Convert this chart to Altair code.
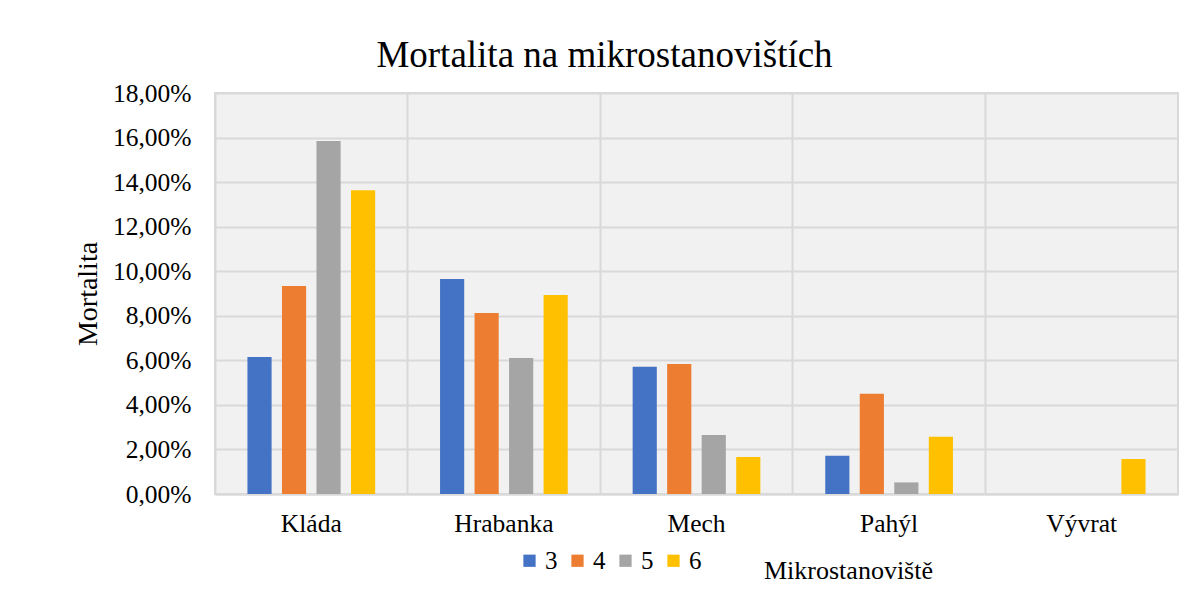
import altair as alt
import pandas as pd

categories = ["Kláda", "Hrabanka", "Mech", "Pahýl", "Vývrat"]
series = ["3", "4", "5", "6"]
values_3 = [0.0615, 0.0965, 0.0571, 0.0172, 0.0]
values_4 = [0.0934, 0.0812, 0.0583, 0.0450, 0.0]
values_5 = [0.1584, 0.0610, 0.0265, 0.0052, 0.0]
values_6 = [0.1364, 0.0893, 0.0166, 0.0257, 0.0157]
colors = ["#4472C4", "#ED7D31", "#A5A5A5", "#FFC000"]

rows = []
for s, vals in zip(series, [values_3, values_4, values_5, values_6]):
    for c, v in zip(categories, vals):
        rows.append({"Mikrostanoviště": c, "Série": s, "Mortalita": v})
df = pd.DataFrame(rows)

FONT = "Liberation Serif"

chart = alt.Chart(df).mark_bar().encode(
    x=alt.X(
        "Mikrostanoviště:N",
        sort=categories,
        scale=alt.Scale(paddingInner=0, paddingOuter=0),
        axis=alt.Axis(
            title="Mikrostanoviště",
            labelAngle=0,
            bandPosition=0,
            grid=True,
            gridColor="#d9d9d9",
            gridWidth=2,
            ticks=False,
            domainColor="#d9d9d9",
            domainWidth=2,
            labelFont=FONT,
            labelFontSize=25.5,
            labelColor="#000000",
            labelPadding=17,
            titleFont=FONT,
            titleFontSize=26,
            titleFontWeight="normal",
            titleColor="#000000",
            titleX=633,
            titleY=84,
            titleBaseline="alphabetic",
        ),
    ),
    xOffset=alt.XOffset(
        "Série:N",
        sort=series,
        scale=alt.Scale(paddingInner=0.3, paddingOuter=0.94),
    ),
    y=alt.Y(
        "Mortalita:Q",
        scale=alt.Scale(domain=[0, 0.18], nice=False),
        axis=alt.Axis(
            title="Mortalita",
            values=[0, 0.02, 0.04, 0.06, 0.08, 0.10, 0.12, 0.14, 0.16, 0.18],
            labelExpr="replace(format(datum.value, '.2%'), '.', ',')",
            grid=True,
            gridColor="#d9d9d9",
            gridWidth=2,
            ticks=False,
            domain=False,
            labelFont=FONT,
            labelFontSize=25.5,
            labelColor="#000000",
            labelPadding=24,
            titleFont=FONT,
            titleFontSize=28,
            titleFontWeight="normal",
            titleColor="#000000",
            titlePadding=10,
        ),
    ),
    color=alt.Color(
        "Série:N",
        sort=series,
        scale=alt.Scale(domain=series, range=colors),
        legend=alt.Legend(
            title=None,
            orient="none",
            direction="horizontal",
            legendX=302,
            legendY=455,
            symbolType="square",
            symbolSize=150,
            symbolStrokeWidth=0,
            labelFont=FONT,
            labelFontSize=25,
            labelColor="#000000",
            columnPadding=7,
            labelOffset=3,
        ),
    ),
).properties(
    width=963,
    height=401,
    title=alt.TitleParams(
        "Mortalita na mikrostanovištích",
        font=FONT,
        fontSize=37,
        fontWeight="normal",
        color="#000000",
        anchor="middle",
        dx=-92,
        dy=-2,
    ),
    autosize=alt.AutoSizeParams(type="none"),
    padding={"left": 207, "top": 85, "right": 4, "bottom": 96},
).configure_view(
    fill="#f1f1f1",
    stroke="#d9d9d9",
    strokeWidth=2,
)

chart.save("out.html", embed_options={"renderer": "svg", "actions": False})
